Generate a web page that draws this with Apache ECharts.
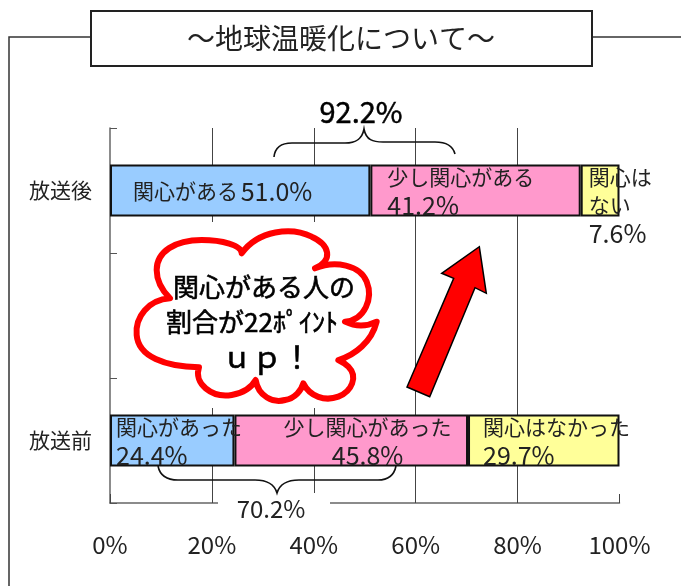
<!DOCTYPE html>
<html>
<head>
<meta charset="utf-8">
<style>
    html, body { margin: 0; padding: 0; background: #fff; }
    #chart { width: 681px; height: 586px; }
</style>
<script src="https://cdn.jsdelivr.net/npm/echarts@6/dist/echarts.min.js"></script>
</head>
<body>
<div id="chart"></div>
<script>
    var fontName = '"Noto Sans CJK JP", sans-serif';

    // 下から順: 放送前, (空き), 放送後
    var categories = ['放送前', '', '放送後'];
    var concerned = [24.4, null, 51.0];
    var somewhat = [45.8, null, 41.2];
    var notConcerned = [29.7, null, 7.6];
    var tickLabels = [0, 20, 40, 60, 80, 100];

    var concernedText = ['{k|関心があった}\n{n|24.4%}', '', '{k|関心がある} {n|51.0%}'];
    var somewhatText = ['{k|少し関心があった}\n{n|45.8%}', '', '{k|少し関心がある}\n{n|41.2%}'];
    var notConcernedText = ['{k|関心はなかった}\n{n|29.7%}', '', '{k|関心は}\n{k|ない}\n{n|7.6%}'];

    var rich = {
        k: { fontFamily: fontName, fontSize: 21, lineHeight: 28, color: '#222' },
        n: { fontFamily: fontName, fontSize: 25, lineHeight: 28, color: '#222' }
    };

    // 棒は100%に揃っているので合計で割り戻す
    function share(i, v) {
        return v[i] === null ? null : v[i] / (concerned[i] + somewhat[i] + notConcerned[i]) * 100;
    }

    function makeSeries(name, color, values, texts, places) {
        return {
            name: name,
            type: 'bar',
            stack: 'total',
            barWidth: 52,
            itemStyle: { color: color, borderColor: '#111', borderWidth: 2 },
            data: values.map(function (v, i) {
                return {
                    value: share(i, values),
                    label: {
                        show: v !== null,
                        position: places[i].pos,
                        align: places[i].align || 'left',
                        verticalAlign: 'top',
                        formatter: texts[i],
                        rich: rich
                    }
                };
            })
        };
    }

    var cloudPath = 'M135 235 C70 240 30 290 35 345 C40 410 120 440 222 442 ' +
        'C205 490 260 535 320 525 C350 520 375 510 392 480 ' +
        'C400 530 445 550 480 540 C510 535 530 510 535 490 ' +
        'C555 530 600 545 640 530 C680 515 700 470 670 440 C660 430 650 425 640 420 ' +
        'C690 405 740 365 755 305 C725 320 695 322 660 305 ' +
        'C720 300 745 235 725 185 C705 135 630 120 570 145 ' +
        'C625 120 615 75 560 50 C500 20 400 30 350 100 ' +
        'C350 75 290 60 230 60 C150 60 95 95 95 150 C95 180 110 210 135 235 Z';
    var braceTop = 'M274 157 C275 147 282 143 292 143 L345 143 C355 143 362 140 364 129 C366 140 373 142 383 142 L435 142 C446 142 453 146 455 154';
    var braceBottom = 'M158 466 C160 476 167 480 178 480 L255 480 C266 480 274 483 277 493 C280 483 288 480 299 480 L378 480 C388 480 394 476 396 466';

    echarts.graphic.registerShape('cloudShape', echarts.graphic.extendPath(cloudPath, {}));
    echarts.graphic.registerShape('braceTop', echarts.graphic.extendPath(braceTop, {}));
    echarts.graphic.registerShape('braceBottom', echarts.graphic.extendPath(braceBottom, {}));

    var mychart = echarts.init(document.getElementById('chart'));

    var option = {
        animation: false,
        textStyle: { fontFamily: fontName },
        grid: { left: 110, top: 128, width: 509.5, height: 375 },
        xAxis: {
            type: 'value',
            min: 0,
            max: 100,
            interval: 20,
            axisLine: { show: true, lineStyle: { color: '#666', width: 1.5 } },
            axisTick: { show: true, inside: true, length: 9, lineStyle: { color: '#444', width: 1 } },
            axisLabel: {
                margin: 30,
                fontSize: 24,
                color: '#222',
                customValues: tickLabels,
                formatter: '{value}%'
            },
            splitLine: {
                show: true,
                showMinLine: false,
                showMaxLine: false,
                lineStyle: { color: '#444', width: 1 }
            }
        },
        yAxis: {
            type: 'category',
            data: categories,
            axisLine: { show: true, lineStyle: { color: '#666', width: 1.5 } },
            axisTick: { show: true, inside: true, length: 7, lineStyle: { color: '#555', width: 1 } },
            axisLabel: { margin: 18, fontSize: 21, color: '#222' }
        },
        series: [
            makeSeries('関心がある', '#99CCFF', concerned, concernedText,
                [{ pos: [6, -1] }, { pos: [0, 0] }, { pos: [23, 13] }]),
            makeSeries('少し関心がある', '#FF99CC', somewhat, somewhatText,
                [{ pos: ['57%', -1], align: 'center' }, { pos: [0, 0] }, { pos: [17, -1] }]),
            makeSeries('関心はない', '#FFFF99', notConcerned, notConcernedText,
                [{ pos: [15, -1] }, { pos: [0, 0] }, { pos: [8, -1] }])
        ],
        graphic: [
            // 枠線とタイトル
            { type: 'polyline', z: 20, shape: { points: [[9, 586], [9, 37], [91, 37]] }, style: { fill: null, stroke: '#333', lineWidth: 1.5 } },
            { type: 'line', z: 20, shape: { x1: 592, y1: 37, x2: 681, y2: 37 }, style: { stroke: '#333', lineWidth: 1.5 } },
            { type: 'rect', z: 20, shape: { x: 91, y: 11, width: 501, height: 55 }, style: { fill: '#fff', stroke: '#222', lineWidth: 2 } },
            { type: 'text', z: 21, x: 341, y: 38, style: { text: '～地球温暖化について～', fontFamily: fontName, fontSize: 28, fill: '#222', align: 'center', verticalAlign: 'middle' } },
            // 合計の括弧
            { type: 'braceTop', z: 20, style: { fill: null, stroke: '#111', lineWidth: 1.6 } },
            { type: 'text', z: 21, x: 361, y: 112, style: { text: '92.2%', fontFamily: fontName, fontSize: 29, fill: '#000', stroke: '#000', lineWidth: 0.5, align: 'center', verticalAlign: 'middle' } },
            { type: 'rect', z: 19, shape: { x: 218, y: 493, width: 112, height: 27 }, style: { fill: '#fff' } },
            { type: 'braceBottom', z: 20, style: { fill: null, stroke: '#111', lineWidth: 1.6 } },
            { type: 'text', z: 21, x: 271, y: 509, style: { text: '70.2%', fontFamily: fontName, fontSize: 24, fill: '#222', align: 'center', verticalAlign: 'middle' } },
            // 吹き出し
            { type: 'rect', z: 19, shape: { x: 125, y: 222, width: 270, height: 186 }, style: { fill: '#fff' } },
            { type: 'cloudShape', z: 20, x: 125, y: 220, scaleX: 1 / 3, scaleY: 1 / 3, style: { fill: '#fff', stroke: '#f00', lineWidth: 18, lineJoin: 'round' } },
            { type: 'text', z: 21, x: 264, y: 287, style: { text: '関心がある人の', fontFamily: fontName, fontSize: 26, fill: '#000', stroke: '#000', lineWidth: 0.6, align: 'center', verticalAlign: 'middle' } },
            { type: 'text', z: 21, x: 252, y: 322, style: { text: '割合が22ﾎﾟｲﾝﾄ', fontFamily: fontName, fontSize: 26, fill: '#000', stroke: '#000', lineWidth: 0.6, align: 'center', verticalAlign: 'middle' } },
            { type: 'text', z: 21, x: 267, y: 357, style: { text: 'ｕｐ！', fontFamily: fontName, fontSize: 30, fill: '#000', stroke: '#000', lineWidth: 0.6, align: 'center', verticalAlign: 'middle' } },
            // 矢印
            { type: 'polygon', z: 22, shape: { points: [[479.3, 246.7], [486.3, 293.3], [475, 287.7], [429.7, 396.7], [407, 387], [453.7, 278.3], [441.7, 273.3]] }, style: { fill: '#f00', stroke: '#000', lineWidth: 1.5 } }
        ]
    };
    mychart.setOption(option);
</script>
</body>
</html>
